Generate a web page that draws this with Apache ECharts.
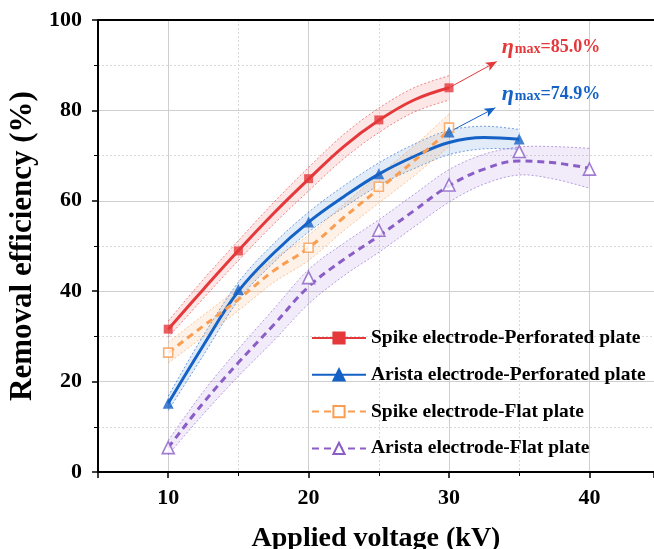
<!DOCTYPE html>
<html>
<head>
<meta charset="utf-8">
<script src="https://cdn.jsdelivr.net/npm/echarts@6/dist/echarts.min.js"></script>
<style>
  html, body { margin: 0; padding: 0; background: #fff; }
  #chart { width: 654px; height: 549px; }
</style>
</head>
<body>
<div id="chart"></div>
<script>
// measured points (hollow flat-plate series have no point at 15 kV)
var spikePerfX = [10, 15, 20, 25, 30];
var spikePerfY = [31.6, 48.9, 64.9, 77.9, 85.0];
var aristaPerfX = [10, 15, 20, 25, 30, 35];
var aristaPerfY = [15.2, 40.4, 55.3, 66.0, 75.2, 73.7];
var spikeFlatX = [10, 20, 25, 30];
var spikeFlatY = [26.4, 49.6, 63.1, 76.2];
var aristaFlatX = [10, 20, 25, 30, 35, 40];
var aristaFlatY = [5.4, 43.0, 53.5, 63.5, 70.9, 67.0];

// fitted curves and their bands, every 2.5 kV
var fitX30 = [10, 12.5, 15, 17.5, 20, 22.5, 25, 27.5, 30];
var fitX35 = [10, 12.5, 15, 17.5, 20, 22.5, 25, 27.5, 30, 32.5, 35];
var fitX40 = [10, 12.5, 15, 17.5, 20, 22.5, 25, 27.5, 30, 32.5, 35, 37.5, 40];

var spikePerfFit = [31.6, 40.4, 49.0, 57.2, 64.8, 72.0, 77.8, 82.3, 85.0];
var spikePerfHi  = [33.4, 42.6, 51.2, 59.6, 67.4, 74.7, 80.5, 85.0, 87.7];
var spikePerfLo  = [29.8, 38.4, 46.8, 54.8, 62.2, 69.3, 75.1, 79.6, 82.3];

var aristaPerfFit = [15.2, 28.0, 40.0, 48.4, 55.3, 60.9, 65.9, 69.8, 72.9, 74.0, 73.6];
var aristaPerfHi  = [16.8, 30.2, 42.0, 50.5, 57.5, 63.3, 68.4, 72.5, 75.6, 76.5, 75.8];
var aristaPerfLo  = [13.6, 25.8, 38.0, 46.3, 53.1, 58.5, 63.4, 67.1, 70.2, 71.5, 71.4];

var spikeFlatFit = [26.4, 32.3, 38.2, 44.5, 49.6, 56.3, 62.6, 68.8, 75.6];
var spikeFlatHi  = [28.7, 34.7, 40.7, 47.1, 52.4, 59.2, 65.7, 72.1, 79.2];
var spikeFlatLo  = [24.1, 29.9, 35.7, 41.9, 46.8, 53.4, 59.5, 65.5, 72.0];

var aristaFlatFit = [5.4, 15.3, 24.2, 32.5, 41.0, 47.0, 52.2, 57.8, 63.3, 67.0, 68.8, 68.4, 67.2];
var aristaFlatHi  = [7.0, 17.8, 27.2, 36.0, 44.8, 50.6, 55.8, 61.4, 66.9, 70.3, 71.9, 72.0, 71.6];
var aristaFlatLo  = [3.8, 12.8, 21.2, 29.0, 37.2, 43.4, 48.6, 54.2, 59.7, 63.7, 65.7, 64.8, 62.8];

var seriesNames = ['Spike electrode-Perforated plate', 'Arista electrode-Perforated plate',
                   'Spike electrode-Flat plate', 'Arista electrode-Flat plate'];

var SERIF = 'Liberation Serif';
var RED = '#e5383b', BLUE = '#1562c6', ORANGE = '#f99d52', PURPLE = '#8a5ec6';

function pairs(xs, ys) {
  var out = [];
  for (var i = 0; i < xs.length; i++) out.push([xs[i], ys[i]]);
  return out;
}

// catmull-rom through pixel points, only for drawing the band outline
function spline(pts) {
  var out = [], n = pts.length, steps = 12;
  for (var i = 0; i < n - 1; i++) {
    var p0 = pts[Math.max(i - 1, 0)], p1 = pts[i], p2 = pts[i + 1], p3 = pts[Math.min(i + 2, n - 1)];
    for (var s = 0; s < steps; s++) {
      var t = s / steps, t2 = t * t, t3 = t2 * t;
      out.push([0, 1].map(function (k) {
        return 0.5 * (2 * p1[k] + (-p0[k] + p2[k]) * t +
          (2 * p0[k] - 5 * p1[k] + 4 * p2[k] - p3[k]) * t2 +
          (-p0[k] + 3 * p1[k] - 3 * p2[k] + p3[k]) * t3);
      }));
    }
  }
  out.push(pts[n - 1]);
  return out;
}

// shaded confidence band with thin dashed edges
function band(xs, hi, lo, color, fill) {
  return {
    type: 'custom', silent: true, z: 1, data: [[20, 50]],
    renderItem: function (params, api) {
      var up = spline(xs.map(function (x, i) { return api.coord([x, hi[i]]); }));
      var dn = spline(xs.map(function (x, i) { return api.coord([x, lo[i]]); }));
      var edge = { stroke: color, lineWidth: 0.8, lineDash: [2, 2], fill: null, opacity: 0.75 };
      return {
        type: 'group', children: [
          { type: 'polygon', shape: { points: up.concat(dn.slice().reverse()) }, style: { fill: fill } },
          { type: 'polyline', shape: { points: up }, style: edge },
          { type: 'polyline', shape: { points: dn }, style: edge }
        ]
      };
    }
  };
}

function fitLine(name, xs, ys, color, dashed, symbol, size) {
  return {
    name: name, type: 'line', smooth: 0.4, symbol: symbol, symbolSize: size,
    showSymbol: false, z: 3,
    itemStyle: { color: color, borderColor: color, borderWidth: 1.6 },
    lineStyle: { color: color, width: 3, type: dashed ? [7, 5] : 'solid' },
    data: pairs(xs, ys)
  };
}

function points(name, xs, ys, color, symbol, size, hollow) {
  return {
    name: name, type: 'scatter', symbol: symbol, symbolSize: size, z: 5,
    itemStyle: hollow ? { color: '#fff', borderColor: color, borderWidth: 1.6 }
                      : { color: color },
    data: pairs(xs, ys)
  };
}

function annotate(arrowFrom, arrowTo, textAt, text, color) {
  return {
    markLine: {
      silent: true, symbol: ['none', 'arrow'], symbolSize: [7, 11],
      lineStyle: { color: color, width: 1, type: 'solid' },
      itemStyle: { color: color },
      label: { show: false },
      data: [[{ coord: arrowFrom }, { coord: arrowTo }]]
    },
    markPoint: {
      silent: true, symbol: 'circle', symbolSize: 0,
      label: {
        show: true, position: 'right', distance: 5, color: color,
        formatter: text,
        rich: {
          eta: { color: color, fontFamily: SERIF, fontStyle: 'italic', fontWeight: 'bold', fontSize: 22, padding: [0, 1, 5, 0] },
          sub: { color: color, fontFamily: SERIF, fontWeight: 'bold', fontSize: 14 },
          val: { color: color, fontFamily: SERIF, fontWeight: 'bold', fontSize: 18, padding: [0, 0, 5, 0] }
        }
      },
      data: [{ coord: textAt }]
    }
  };
}

var series = [
  band(fitX30, spikePerfHi, spikePerfLo, RED, 'rgba(238,90,90,0.15)'),
  band(fitX35, aristaPerfHi, aristaPerfLo, BLUE, 'rgba(60,120,210,0.15)'),
  band(fitX30, spikeFlatHi, spikeFlatLo, ORANGE, 'rgba(250,165,100,0.15)'),
  band(fitX40, aristaFlatHi, aristaFlatLo, PURPLE, 'rgba(160,120,220,0.15)'),

  fitLine(seriesNames[0], fitX30, spikePerfFit, RED, false, 'rect', 9),
  fitLine(seriesNames[1], fitX35, aristaPerfFit, BLUE, false, 'triangle', 11),
  fitLine(seriesNames[2], fitX30, spikeFlatFit, ORANGE, true, 'emptyRect', 9),
  fitLine(seriesNames[3], fitX40, aristaFlatFit, PURPLE, true, 'emptyTriangle', 12),

  points(seriesNames[2], spikeFlatX, spikeFlatY, ORANGE, 'rect', 9, true),
  points(seriesNames[3], aristaFlatX, aristaFlatY, PURPLE, 'triangle', 12, true),
  Object.assign(points(seriesNames[0], spikePerfX, spikePerfY, RED, 'rect', 9, false),
    annotate([30, 85.0], [33.4, 90.8], [33.4, 93.4], '{eta|η}{sub|max}{val|=85.0%}', RED)),
  Object.assign(points(seriesNames[1], aristaPerfX, aristaPerfY, BLUE, 'triangle', 11, false),
    annotate([30, 75.2], [33.3, 80.6], [33.4, 83.0], '{eta|η}{sub|max}{val|=74.9%}', BLUE))
];

var axisFont = { fontFamily: SERIF, fontWeight: 'bold', fontSize: 22, color: '#000' };
var majorGrid = { lineStyle: { color: '#cfcfcf', width: 1 } };
var minorGrid = { show: true, lineStyle: { color: '#d9d9d9', width: 1, type: [2, 2] } };

var chart = echarts.init(document.getElementById('chart'), null, { renderer: 'canvas' });
chart.setOption({
  animation: false,
  backgroundColor: '#fff',
  grid: { left: 98, top: 20, right: 0, bottom: 77, outerBoundsMode: 'none', containLabel: false },
  legend: {
    data: seriesNames, orient: 'vertical', left: 311, top: 328, padding: 0,
    itemWidth: 54, itemHeight: 14, itemGap: 16.8,
    textStyle: { fontFamily: SERIF, fontWeight: 'bold', fontSize: 19.5, color: '#000', lineHeight: 20 }
  },
  xAxis: [{
    type: 'value', min: 5, max: 44.6, splitNumber: 4,
    name: 'Applied voltage (kV)', nameLocation: 'middle', nameGap: 53,
    nameTextStyle: { fontFamily: SERIF, fontWeight: 'bold', fontSize: 28, color: '#000' },
    axisLine: { lineStyle: { color: '#000', width: 2 } },
    axisTick: { length: 6, lineStyle: { color: '#000', width: 1.5 } },
    minorTick: { show: true, splitNumber: 2, length: 4, lineStyle: { color: '#000', width: 1 } },
    axisLabel: Object.assign({ margin: 15, showMinLabel: false, showMaxLabel: false }, axisFont),
    splitLine: majorGrid,
    minorSplitLine: minorGrid
  }, {
    // top frame line only
    type: 'value', position: 'top', min: 5, max: 44.6,
    axisLine: { show: true, lineStyle: { color: '#000', width: 2 } },
    axisTick: { show: false }, axisLabel: { show: false }, splitLine: { show: false }
  }],
  yAxis: {
    type: 'value', min: 0, max: 100, interval: 20,
    name: 'Removal efficiency (%)', nameLocation: 'middle', nameGap: 53, nameRotate: 90,
    nameTextStyle: { fontFamily: SERIF, fontWeight: 'bold', fontSize: 31, color: '#000' },
    axisLine: { lineStyle: { color: '#000', width: 2 } },
    axisTick: { length: 6, lineStyle: { color: '#000', width: 1.5 } },
    minorTick: { show: true, splitNumber: 2, length: 4, lineStyle: { color: '#000', width: 1 } },
    axisLabel: Object.assign({ margin: 16 }, axisFont),
    splitLine: majorGrid,
    minorSplitLine: minorGrid
  },
  series: series
});
</script>
</body>
</html>
